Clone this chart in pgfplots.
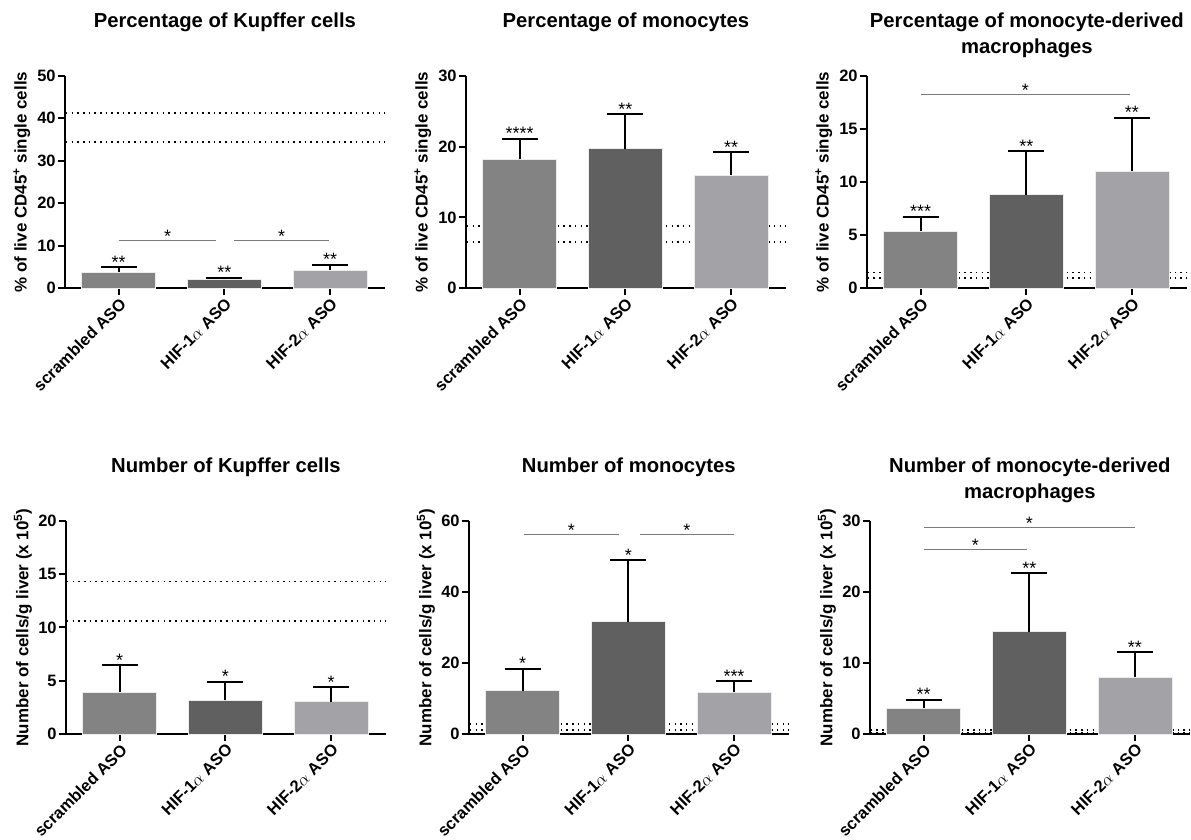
\documentclass[border=0pt]{standalone}
\usepackage{pgfplots}
\pgfplotsset{compat=1.18}
\usepackage{fontspec}
\setmainfont{Liberation Sans}
\definecolor{cscr}{HTML}{838383}
\definecolor{chif1}{HTML}{606060}
\definecolor{chif2}{HTML}{A3A2A6}
\definecolor{csig}{HTML}{7A7A7A}
\newcommand{\titlefont}{\fontsize{20.3}{25.5}\selectfont\bfseries}
\newcommand{\tickfont}{\fontsize{16.5}{18}\selectfont\bfseries}
\newcommand{\labelfont}{\fontsize{17}{19}\selectfont\bfseries}
\newcommand{\starfont}{\fontsize{18}{19}\selectfont}
\tikzset{signode/.style={pos=0.5, font=\starfont, anchor=base, yshift=-2pt, inner sep=0pt, text=black}}
\pgfplotsset{
  panel/.style={
    scale only axis, width=321pt, height=213pt, anchor=south west,
    xmin=-0.51, xmax=2.52, ymin=0, clip=false,
    axis lines*=left, axis line style={line width=2.2pt, -, black},
    xtick={0,1,2},
    xticklabels={scrambled ASO, HIF-1$\alpha$ ASO, HIF-2$\alpha$ ASO},
    tick align=outside, major tick length=7pt,
    tick style={line width=2pt, black},
    xticklabel style={rotate=45, anchor=north east, font=\tickfont, inner sep=1pt},
    yticklabel style={font=\tickfont, inner sep=2pt},
    /pgf/number format/assume math mode=true,
    ylabel style={font=\labelfont, at={(axis description cs:-0.134,0.5)}, anchor=center},
    title style={font=\titlefont, align=center, anchor=north, at={(axis description cs:0.5,1)}, yshift=57pt, inner sep=0pt},
  },
  barA/.style={ybar, bar shift=0pt, bar width=0.7, fill=#1, draw=white!85!gray, line width=0.6pt,
    error bars/.cd, y dir=plus, y explicit, error mark=|,
    error bar style={line width=2pt, black},
    error mark options={line width=2pt, black, mark size=18pt}},
  refline/.style={black, line width=1.6pt, dash pattern=on 1.6pt off 4.1pt, forget plot},
  sig/.style={csig, line width=1pt, forget plot},
  stars/.style={draw=none, forget plot, nodes near coords, point meta=explicit symbolic,
    every node near coord/.style={font=\starfont, anchor=base, yshift=-1pt, inner sep=0pt}},
}
\begin{document}
\begin{tikzpicture}
\path (0pt,0pt) rectangle (1191pt,837pt);
% ---------- Panel 1 ----------
\begin{axis}[panel, at={(65pt,548pt)}, ymax=50, ytick={0,10,20,30,40,50},
  title={Percentage of Kupffer cells},
  ylabel={\% of live CD45\textsuperscript{+} single cells}]
\addplot[refline] coordinates {(-0.5,41.2) (2.52,41.2)};
\addplot[refline] coordinates {(-0.5,34.4) (2.52,34.4)};
\addplot[barA=cscr] coordinates {(0,3.8) +- (0,1.2)};
\addplot[barA=chif1] coordinates {(1,2.1) +- (0,0.4)};
\addplot[barA=chif2] coordinates {(2,4.3) +- (0,1.2)};
\addplot[stars] coordinates {(0,5.0)[**] (1,2.5)[**] (2,5.5)[**]};
\addplot[sig] coordinates {(0,11.3) (0.925,11.3)} node[signode] {*};
\addplot[sig] coordinates {(1.095,11.3) (1.99,11.3)} node[signode] {*};
\end{axis}
% ---------- Panel 2 ----------
\begin{axis}[panel, at={(467pt,548pt)}, ymax=30, ytick={0,10,20,30},
  title={Percentage of monocytes},
  ylabel={\% of live CD45\textsuperscript{+} single cells}]
\addplot[refline] coordinates {(-0.5,8.8) (2.52,8.8)};
\addplot[refline] coordinates {(-0.5,6.5) (2.52,6.5)};
\addplot[barA=cscr] coordinates {(0,18.2) +- (0,2.9)};
\addplot[barA=chif1] coordinates {(1,19.7) +- (0,4.9)};
\addplot[barA=chif2] coordinates {(2,16.0) +- (0,3.2)};
\addplot[stars] coordinates {(0,21.1)[****] (1,24.6)[**] (2,19.2)[**]};
\end{axis}
% ---------- Panel 3 ----------
\begin{axis}[panel, at={(869pt,548pt)}, ymax=20, ytick={0,5,10,15,20},
  title={Percentage of monocyte-derived\\macrophages},
  ylabel={\% of live CD45\textsuperscript{+} single cells}]
\addplot[refline] coordinates {(-0.5,1.5) (2.52,1.5)};
\addplot[refline] coordinates {(-0.5,0.95) (2.52,0.95)};
\addplot[barA=cscr] coordinates {(0,5.4) +- (0,1.35)};
\addplot[barA=chif1] coordinates {(1,8.8) +- (0,4.1)};
\addplot[barA=chif2] coordinates {(2,11.0) +- (0,5.05)};
\addplot[stars] coordinates {(0,6.75)[***] (1,12.9)[**] (2,16.05)[**]};
\addplot[sig] coordinates {(0,18.2) (1.98,18.2)} node[signode] {*};
\end{axis}
% ---------- Panel 4 ----------
\begin{axis}[panel, at={(66pt,101pt)}, height=214pt, ymax=20, ytick={0,5,10,15,20},
  title={Number of Kupffer cells},
  ylabel={Number of cells/g liver (x 10\textsuperscript{5})}]
\addplot[refline] coordinates {(-0.5,14.3) (2.52,14.3)};
\addplot[refline] coordinates {(-0.5,10.6) (2.52,10.6)};
\addplot[barA=cscr] coordinates {(0,3.9) +- (0,2.55)};
\addplot[barA=chif1] coordinates {(1,3.15) +- (0,1.75)};
\addplot[barA=chif2] coordinates {(2,3.05) +- (0,1.35)};
\addplot[stars] coordinates {(0,6.45)[*] (1,4.9)[*] (2,4.4)[*]};
\end{axis}
% ---------- Panel 5 ----------
\begin{axis}[panel, at={(470pt,101pt)}, height=214pt, ymax=60, ytick={0,20,40,60},
  title={Number of monocytes},
  ylabel={Number of cells/g liver (x 10\textsuperscript{5})}]
\addplot[refline] coordinates {(-0.5,2.8) (2.52,2.8)};
\addplot[refline] coordinates {(-0.5,1.2) (2.52,1.2)};
\addplot[barA=cscr] coordinates {(0,12.2) +- (0,6.1)};
\addplot[barA=chif1] coordinates {(1,31.6) +- (0,17.3)};
\addplot[barA=chif2] coordinates {(2,11.7) +- (0,3.1)};
\addplot[stars] coordinates {(0,18.3)[*] (1,48.9)[*] (2,14.8)[***]};
\addplot[sig] coordinates {(0.01,56) (0.91,56)} node[signode] {*};
\addplot[sig] coordinates {(1.11,56) (2.0,56)} node[signode] {*};
\end{axis}
% ---------- Panel 6 ----------
\begin{axis}[panel, at={(872pt,101pt)}, height=214pt, ymax=30, ytick={0,10,20,30},
  title={Number of monocyte-derived\\macrophages},
  ylabel={Number of cells/g liver (x 10\textsuperscript{5})}]
\addplot[refline] coordinates {(-0.5,0.55) (2.52,0.55)};
\addplot[refline] coordinates {(-0.5,0.25) (2.52,0.25)};
\addplot[barA=cscr] coordinates {(0,3.6) +- (0,1.2)};
\addplot[barA=chif1] coordinates {(1,14.4) +- (0,8.2)};
\addplot[barA=chif2] coordinates {(2,8.0) +- (0,3.5)};
\addplot[stars] coordinates {(0,4.8)[**] (1,22.6)[**] (2,11.5)[**]};
\addplot[sig] coordinates {(0,29) (2.0,29)} node[signode] {*};
\addplot[sig] coordinates {(0,25.9) (0.98,25.9)} node[signode] {*};
\end{axis}
\end{tikzpicture}
\end{document}
